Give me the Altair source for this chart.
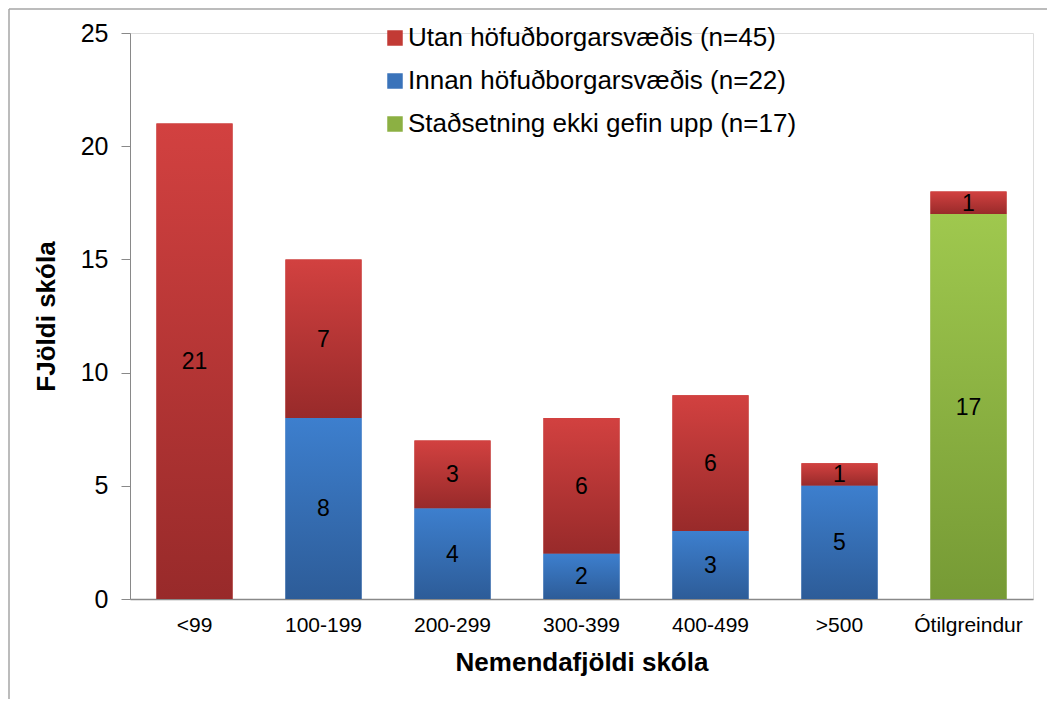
import altair as alt
import pandas as pd

categories = ["<99", "100-199", "200-299", "300-399", "400-499", ">500", "Ótilgreindur"]
utan = [21, 7, 3, 6, 6, 1, 1]
innan = [0, 8, 4, 2, 3, 5, 0]
stadsetning = [0, 0, 0, 0, 0, 0, 17]
series_names = [
    "Utan höfuðborgarsvæðis (n=45)",
    "Innan höfuðborgarsvæðis (n=22)",
    "Staðsetning ekki gefin upp (n=17)",
]
stack_order = [2, 0, 1]
flat_colors = ["#C23A35", "#3A73BA", "#8CB043"]
grad_colors = [("#D24140", "#982A2A"), ("#3D7FCE", "#2D5C98"), ("#9FC84E", "#769A35")]

rows = []
for s_name, vals, o in zip(series_names, [utan, innan, stadsetning], stack_order):
    for c, v in zip(categories, vals):
        if v > 0:
            rows.append(dict(cat=c, series=s_name, value=v, order=o))
df = pd.DataFrame(rows)

base = alt.Chart(df).transform_stack(
    stack="value", as_=["y0", "y1"], groupby=["cat"],
    sort=[alt.SortField("order", "ascending")]
).transform_calculate(mid="(datum.y0 + datum.y1) / 2")

x_enc = alt.X(
    "cat:N", sort=categories,
    scale=alt.Scale(paddingInner=0.41, paddingOuter=0.205),
    axis=alt.Axis(
        title="Nemendafjöldi skóla", labelAngle=0, ticks=False, labelPadding=15,
        labelFont="Liberation Sans", labelFontSize=21, labelColor="black",
        titleFont="Liberation Sans", titleFontSize=26, titleFontWeight="bold",
        titleColor="black", titlePadding=14, domainColor="#898989", domainWidth=1.5,
    ),
)
y_scale = alt.Scale(domain=[0, 25])
y_axis = alt.Axis(
    title="FJöldi skóla", values=[0, 5, 10, 15, 20, 25], grid=False,
    tickSize=9, tickColor="#898989", domainColor="#898989", labelPadding=13,
    labelFont="Liberation Sans", labelFontSize=25, labelColor="black",
    titleFont="Liberation Sans", titleFontSize=26, titleFontWeight="bold",
    titleColor="black", titlePadding=21,
)

flat = base.mark_bar().encode(
    x=x_enc,
    y=alt.Y("y1:Q", scale=y_scale, axis=y_axis),
    y2="y0:Q",
    color=alt.Color(
        "series:N",
        scale=alt.Scale(domain=series_names, range=flat_colors),
        legend=alt.Legend(
            title=None, orient="none", legendX=252, legendY=-8,
            symbolType="square", symbolSize=240, symbolStrokeWidth=0,
            labelFont="Liberation Sans", labelFontSize=26, labelColor="black",
            labelOffset=0, rowPadding=17, labelLimit=600,
        ),
    ),
)

layers = [flat]
for name, (c_top, c_bot) in zip(series_names, grad_colors):
    grad = alt.Gradient(
        gradient="linear", x1=0, x2=0, y1=0, y2=1,
        stops=[alt.GradientStop(offset=0, color=c_top), alt.GradientStop(offset=1, color=c_bot)],
    )
    layers.append(
        base.transform_filter(alt.datum.series == name)
        .mark_bar(color=grad)
        .encode(x=x_enc, y=alt.Y("y1:Q", scale=y_scale, axis=y_axis), y2="y0:Q")
    )

labels = base.mark_text(
    font="Liberation Sans", fontSize=23, color="black", baseline="middle", dy=1
).encode(x=x_enc, y=alt.Y("mid:Q", scale=y_scale, axis=y_axis), text="value:Q")
layers.append(labels)

frame_df = pd.DataFrame({"k": [0]})
frame_left = alt.Chart(frame_df).mark_rule(color="#A6A6A6", strokeWidth=1.5).encode(
    x=alt.value(-121), y=alt.value(-24), y2=alt.value(700)
)
frame_top = alt.Chart(frame_df).mark_rule(color="#A6A6A6", strokeWidth=1.5).encode(
    x=alt.value(-121), x2=alt.value(930), y=alt.value(-24)
)
layers += [frame_left, frame_top]

chart = alt.layer(*layers).properties(
    width=903, height=566,
    autosize=alt.AutoSizeParams(type="none"),
    padding={"left": 122, "top": 25, "right": 14, "bottom": 100},
).configure_view(stroke=None).configure(background="white")

chart.save("out.html", embed_options={"renderer": "svg", "actions": False})
